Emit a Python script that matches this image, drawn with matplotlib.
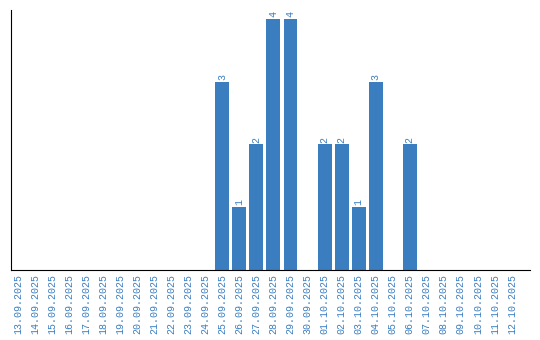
import matplotlib
matplotlib.use('Agg')
import matplotlib.pyplot as plt
import numpy as np

dates = ['13.09.2025', '14.09.2025', '15.09.2025', '16.09.2025', '17.09.2025',
         '18.09.2025', '19.09.2025', '20.09.2025', '21.09.2025', '22.09.2025',
         '23.09.2025', '24.09.2025', '25.09.2025', '26.09.2025', '27.09.2025',
         '28.09.2025', '29.09.2025', '30.09.2025', '01.10.2025', '02.10.2025',
         '03.10.2025', '04.10.2025', '05.10.2025', '06.10.2025', '07.10.2025',
         '08.10.2025', '09.10.2025', '10.10.2025', '11.10.2025', '12.10.2025']
counts = [0, 0, 0, 0, 0, 0, 0, 0, 0, 0, 0, 0,
          3, 1, 2, 4, 4, 0, 2, 2, 1, 3, 0, 2,
          0, 0, 0, 0, 0, 0]

blue = '#3a7ec0'
x = np.arange(len(dates))

fig = plt.figure(figsize=(5.4, 3.4), dpi=100)
ax = fig.add_axes([11/540, 70/340, 519/540, 260/340])

bars = ax.bar(x, counts, width=0.82, color=blue)
for xi, v in zip(x, counts):
    if v > 0:
        ax.text(xi, v + 0.03, str(v), rotation=90, ha='center', va='bottom',
                color=blue, fontsize=7.2, family='Liberation Mono')

ax.set_xlim(-0.41, 30.06)
ax.set_ylim(0, 4.14)
ax.set_xticks(x)
ax.set_xticklabels(dates, rotation=90, color=blue, fontsize=7.2,
                   family='Liberation Mono')
ax.tick_params(axis='x', length=0, pad=3)
ax.set_yticks([])
ax.spines['top'].set_visible(False)
ax.spines['right'].set_visible(False)

fig.savefig('out.png', dpi=100)
